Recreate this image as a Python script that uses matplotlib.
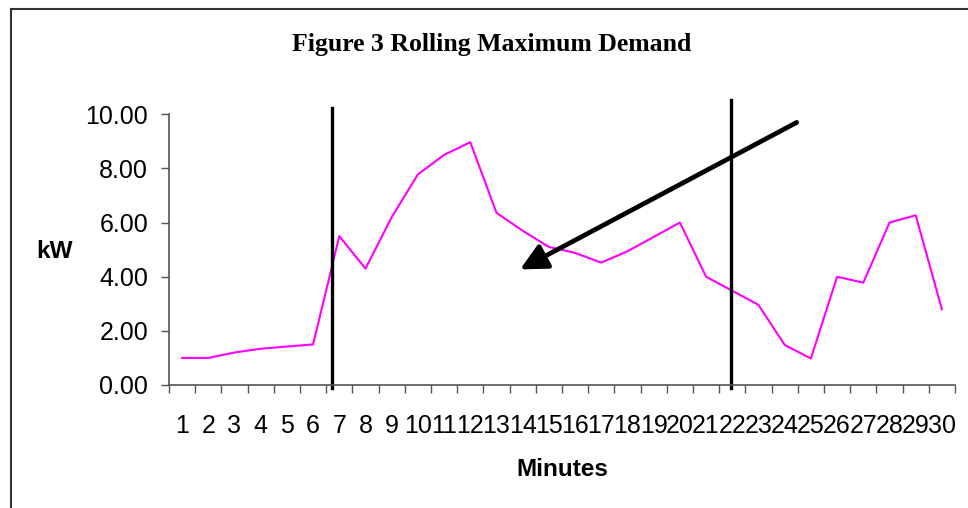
import matplotlib
matplotlib.use("Agg")
import matplotlib.pyplot as plt
from matplotlib.patches import Rectangle

# data
minutes = ['1', '2', '3', '4', '5', '6', '7', '8', '9', '10',
           '11', '12', '13', '14', '15', '16', '17', '18', '19', '20',
           '21', '22', '23', '24', '25', '26', '27', '28', '29', '30']
kw = [1.0, 1.0, 1.2, 1.34, 1.42, 1.5, 5.5, 4.3, 6.2, 7.78,
      8.5, 8.97, 6.36, 5.7, 5.1, 4.88, 4.52, 4.94, 5.47, 6.0,
      4.0, 3.48, 2.96, 1.48, 0.98, 4.0, 3.78, 6.0, 6.27, 2.8]
yticks = [0, 2, 4, 6, 8, 10]

plt.rcParams['font.family'] = ['Liberation Sans', 'DejaVu Sans']

fig = plt.figure(figsize=(9.68, 5.08), dpi=100)
ax = fig.add_axes([169/968, 1-385/508, (955-169)/968, (385-114.3)/508])

x = list(range(1, len(minutes) + 1))
ax.plot(x, kw, color='#FF00FF', lw=1.5)

ax.set_xlim(0.5, 30.5)
ax.set_ylim(0, 10)
ax.set_yticks(yticks)
ax.set_yticklabels(['%.2f' % v for v in yticks], fontsize=18)
ax.set_xticks(x)
ax.set_xticklabels(minutes, fontsize=18)
ax.set_xticks([i + 0.5 for i in range(0, 31)], minor=True)
ax.tick_params(axis='x', which='major', length=0, pad=21)
ax.tick_params(axis='x', which='minor', length=6, width=1, color='#555555', direction='out')
ax.tick_params(axis='y', length=6, width=1, color='#555555', pad=9)

for s in ['top', 'right']:
    ax.spines[s].set_visible(False)
for s in ['left', 'bottom']:
    ax.spines[s].set_color('#555555')
    ax.spines[s].set_linewidth(1.2)

# vertical markers and arrow
ax.plot([6.73, 6.73], [-0.11, 10.22], color='black', lw=2.4, clip_on=False)
ax.plot([21.94, 21.94], [-0.11, 10.52], color='black', lw=2.4, clip_on=False)
ax.annotate('', xy=(13.9, 4.27), xytext=(24.46, 9.70),
            arrowprops=dict(arrowstyle='-|>,head_length=0.8,head_width=0.4',
                            lw=3.4, color='black', shrinkA=0, shrinkB=0,
                            mutation_scale=20))

fig.text(492/968, 1-44/508, 'Figure 3 Rolling Maximum Demand', ha='center', va='center',
         fontsize=18.5, fontweight='bold', family=['Liberation Serif', 'DejaVu Serif'])
fig.text(54/968, 1-252/508, 'kW', ha='center', va='center', fontsize=17.5, fontweight='bold')
fig.text(562/968, 1-470/508, 'Minutes', ha='center', va='center', fontsize=17.5, fontweight='bold')

fig.patches.append(Rectangle((11/968, -0.1), 1.2, 1.1 - 9/508, transform=fig.transFigure,
                             fill=False, edgecolor='#333333', lw=1.5))

fig.savefig('out.png', dpi=100)
